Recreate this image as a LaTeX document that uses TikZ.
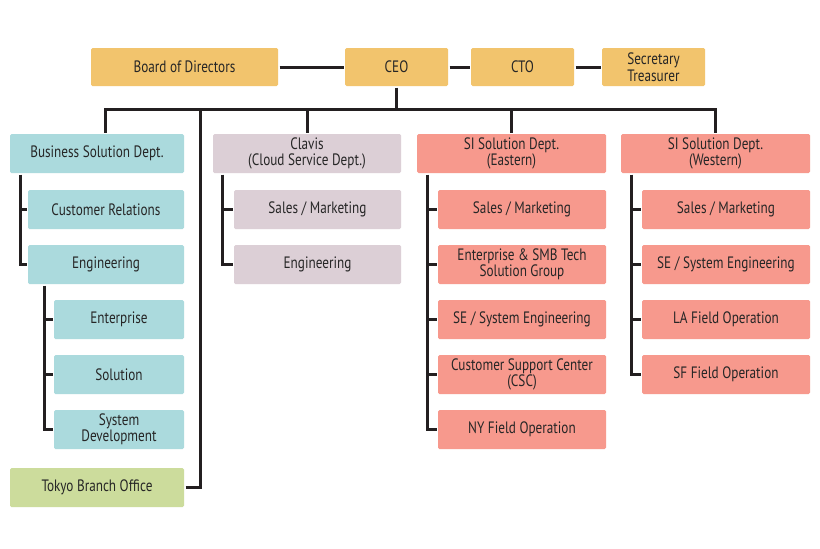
\documentclass[tikz,border=0pt]{standalone}
\usepackage{fontspec}
\setmainfont{PT Sans}[FakeStretch=0.8]

\definecolor{boardgold}{HTML}{F2C46D}
\definecolor{bizcyan}{HTML}{ABDADD}
\definecolor{clavismauve}{HTML}{DCCFD6}
\definecolor{sisalmon}{HTML}{F7998D}
\definecolor{tokyogreen}{HTML}{CCDC9C}
\definecolor{wire}{HTML}{231F20}

\begin{document}
\begin{tikzpicture}[x=1pt,y=-1pt,line width=3pt,draw=wire,
  box/.style={minimum height=39pt,inner sep=0pt,align=center,rounded corners=1.5pt,
    text=black!85,font=\fontsize{16.5}{16.5}\selectfont},
  exec/.style={box,fill=boardgold,minimum height=38pt,minimum width=103pt},
  biz/.style={box,fill=bizcyan},
  cloud/.style={box,fill=clavismauve},
  si/.style={box,fill=sisalmon},
  branch/.style={box,fill=tokyogreen}]
  \fill[white] (0,0) rectangle (820,549);
  \useasboundingbox (0,0) rectangle (820,549);

  % top row
  \node[exec,minimum width=187pt] (bod) at (184.5,67) {Board of Directors};
  \node[exec] (ceo) at (396.5,67) {CEO};
  \node[exec] (cto) at (522.5,67) {CTO};
  \node[exec] (sec) at (653.5,67) {Secretary\\Treasurer};
  \draw (bod) -- (ceo) -- (cto) -- (sec);

  % departments
  \node[biz,minimum width=174pt] (bsd) at (97,153.5) {Business Solution Dept.};
  \node[cloud,minimum width=188pt] (clavis) at (307,153.5) {Clavis\\(Cloud Service Dept.)};
  \node[si,minimum width=189pt] (sie) at (511.5,153.5) {SI Solution Dept.\\(Eastern)};
  \node[si,minimum width=189pt] (siw) at (715.5,153.5) {SI Solution Dept.\\(Western)};
  \node[branch,minimum width=174pt] (tokyo) at (97,487.5) {Tokyo Branch Office};

  \coordinate (bus) at (396.5,109);
  \coordinate (tk) at (200,109);
  \draw (ceo) -- (bus);
  \draw ([xshift=8pt]bsd.north) |- (bus) -| (siw.north);
  \draw (bus -| clavis.north) -- (clavis.north);
  \draw (bus -| sie.north) -- (sie.north);
  \draw (tokyo.east) -| (tk);

  % business solution
  \node[biz,minimum width=156pt] (cr) at (106,209.5) {Customer Relations};
  \node[biz,minimum width=156pt] (eng) at (106,264.5) {Engineering};
  \node[biz,minimum width=130pt] (ent) at (119,319.5) {Enterprise};
  \node[biz,minimum width=130pt] (sol) at (119,374.5) {Solution};
  \node[biz,minimum width=130pt] (sysdev) at (119,429.5) {System\\Development};
  \draw ([xshift=-77pt]bsd.south) |- (eng.west);
  \draw (cr.west) -- ++(-8,0);
  \draw ([xshift=-62pt]eng.south) |- (sysdev.west);
  \draw (ent.west) -- ++(-10,0);
  \draw (sol.west) -- ++(-10,0);

  % clavis
  \node[cloud,minimum width=167pt] (csales) at (317.5,209.5) {Sales / Marketing};
  \node[cloud,minimum width=167pt] (ceng) at (317.5,264.5) {Engineering};
  \draw ([xshift=-85pt]clavis.south) |- (ceng.west);
  \draw (csales.west) -- ++(-12,0);

  % SI eastern
  \node[si,minimum width=168pt] (esales) at (522,209.5) {Sales / Marketing};
  \node[si,minimum width=168pt] (esmb) at (522,264.5) {Enterprise \& SMB Tech\\Solution Group};
  \node[si,minimum width=168pt] (ese) at (522,319.5) {SE / System Engineering};
  \node[si,minimum width=168pt] (ecsc) at (522,374.5) {Customer Support Center\\(CSC)};
  \node[si,minimum width=168pt] (eny) at (522,429.5) {NY Field Operation};
  \draw ([xshift=-84.5pt]sie.south) |- (eny.west);
  \foreach \n in {esales,esmb,ese,ecsc}
    \draw (\n.west) -- ++(-11,0);

  % SI western
  \node[si,minimum width=168pt] (wsales) at (726,209.5) {Sales / Marketing};
  \node[si,minimum width=168pt] (wse) at (726,264.5) {SE / System Engineering};
  \node[si,minimum width=168pt] (wla) at (726,319.5) {LA Field Operation};
  \node[si,minimum width=168pt] (wsf) at (726,374.5) {SF Field Operation};
  \draw ([xshift=-84.5pt]siw.south) |- (wsf.west);
  \foreach \n in {wsales,wse,wla}
    \draw (\n.west) -- ++(-11,0);
\end{tikzpicture}
\end{document}
